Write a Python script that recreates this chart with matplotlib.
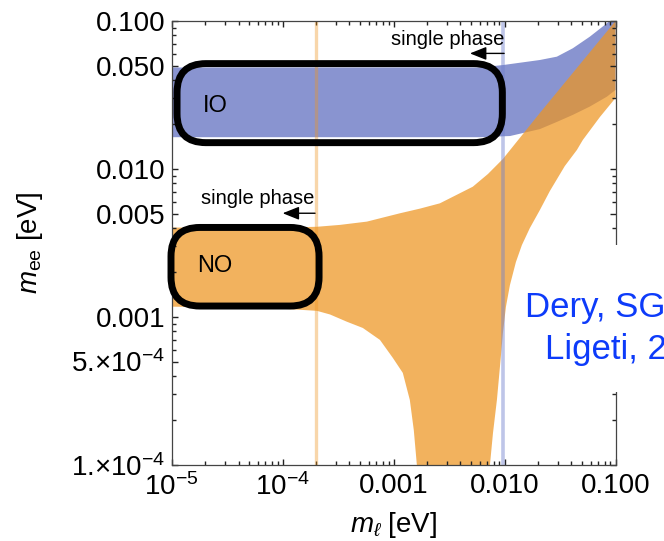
import numpy as np
import matplotlib.pyplot as plt
from matplotlib.patches import FancyBboxPatch, Rectangle
from matplotlib.ticker import FixedLocator, LogLocator, NullFormatter

plt.rcParams['font.family'] = ['Liberation Sans', 'DejaVu Sans']
plt.rcParams['mathtext.fontset'] = 'custom'
plt.rcParams['mathtext.rm'] = 'Liberation Sans'
plt.rcParams['mathtext.it'] = 'Liberation Sans:italic'
plt.rcParams['mathtext.bf'] = 'Liberation Sans:bold'

# inverted ordering band (m_lightest, m_ee in eV)
io_up_m = [1e-5, 6.0e-3, 9.7e-3, 0.0208, 0.0296, 0.0412, 0.0586, 0.0836, 0.1]
io_up = [0.0485, 0.0485, 0.0504, 0.0545, 0.0574, 0.0654, 0.0783, 0.0965, 0.112]
io_lo_m = [1e-5, 6.0e-3, 0.0112, 0.0208, 0.0296, 0.0412, 0.0586, 0.0836, 0.1]
io_lo = [0.0164, 0.0164, 0.0167, 0.0186, 0.0208, 0.0232, 0.0264, 0.0308, 0.0342]

# normal ordering band
no_up_m = [1e-5, 5e-5, 1.2e-4, 2.04e-4, 3.28e-4, 5.74e-4, 1.14e-3, 1.73e-3, 2.61e-3,
           5.17e-3, 7.08e-3, 9.66e-3, 0.0208, 0.1]
no_up = [0.00402, 0.00402, 0.00403, 0.00407, 0.00419, 0.00441, 0.00502, 0.0054,
         0.00586, 0.00759, 0.00925, 0.01169, 0.0239, 0.1]
no_lo_m = [1e-5, 5e-5, 1.16e-4, 2.04e-4, 2.67e-4, 3.79e-4, 5.28e-4, 7.53e-4, 9.86e-4,
           1.21e-3, 1.40e-3, 1.52e-3, 1.62e-3, 1.75e-3, 7.0e-3, 7.38e-3, 7.86e-3,
           8.53e-3, 9.08e-3, 9.66e-3, 0.01028, 0.01117, 0.01265, 0.01432, 0.0169,
           0.0208, 0.0256, 0.0349, 0.0448, 0.0507, 0.0723, 0.1]
no_lo = [0.001174, 0.00116, 0.00113, 0.00110, 0.00104, 9.29e-4, 8.43e-4, 7.00e-4,
         5.28e-4, 4.19e-4, 2.75e-4, 1.72e-4, 1.0e-4, 3e-5, 3e-5, 1.0e-4, 1.64e-4,
         2.75e-4, 4.59e-4, 7.80e-4, 1.17e-3, 1.64e-3, 2.35e-3, 3.06e-3, 3.99e-3,
         5.28e-3, 7.10e-3, 0.01047, 0.01343, 0.0157, 0.02245, 0.0302]

# single phase thresholds
no_line = 2.0e-4
io_line = 9.7e-3

x_major = [1e-5, 1e-4, 1e-3, 1e-2, 1e-1]
x_labels = [r'$10^{-5}$', r'$10^{-4}$', '0.001', '0.010', '0.100']
y_major = [1e-4, 5e-4, 1e-3, 5e-3, 1e-2, 5e-2, 1e-1]
y_labels = ['1.×10$^{-4}$', '5.×10$^{-4}$', '0.001', '0.005',
            '0.010', '0.050', '0.100']

blue = '#8994D0'
orange = '#EE9520'

fig = plt.figure(figsize=(6.64, 5.41), dpi=100)
ax = fig.add_axes([0.2586, 0.1405, 0.6684, 0.8207])
ax.set_xscale('log')
ax.set_yscale('log')
ax.set_xlim(1e-5, 0.1)
ax.set_ylim(1e-4, 0.1)

ax.fill(io_up_m + io_lo_m[::-1], io_up + io_lo[::-1], color=blue, lw=0, zorder=1)
ax.fill(no_up_m + no_lo_m[::-1], no_up + no_lo[::-1], color=orange, alpha=0.72,
        lw=0, zorder=1.5)

ax.axvline(no_line, color=orange, alpha=0.38, lw=2.4, zorder=2)
ax.axvline(io_line, color='#6F80CC', alpha=0.45, lw=2.6, zorder=2)

# ticks
ax.xaxis.set_major_locator(FixedLocator(x_major))
ax.set_xticklabels(x_labels)
ax.yaxis.set_major_locator(FixedLocator(y_major))
ax.set_yticklabels(y_labels)
ax.xaxis.set_minor_locator(LogLocator(base=10, subs=[2, 3, 4, 5, 6, 7, 8, 9]))
ax.yaxis.set_minor_locator(LogLocator(base=10, subs=[2, 3, 4, 6, 7, 8, 9]))
ax.xaxis.set_minor_formatter(NullFormatter())
ax.yaxis.set_minor_formatter(NullFormatter())
ax.tick_params(which='both', direction='in', top=True, right=True,
               color='#222222', width=1.0, labelsize=20)
ax.tick_params(which='major', length=4.5)
ax.tick_params(which='minor', length=2.6)
ax.tick_params(axis='x', pad=6)
ax.tick_params(axis='y', pad=4.5)
for sp in ax.spines.values():
    sp.set_color('#444444')
    sp.set_linewidth(0.9)

ax.set_xlabel(r'$m_{\ell}$ [eV]', fontsize=20)
ax.set_ylabel(r'$m_{\mathrm{ee}}$ [eV]', fontsize=20)
ax.xaxis.set_label_coords(0.5, -0.102)
ax.yaxis.set_label_coords(-0.285, 0.5)

# rounded boxes
for x0, y0, x1, y1 in [(0.012, 0.726, 0.745, 0.904), (-0.0016, 0.358, 0.332, 0.535)]:
    ax.add_patch(FancyBboxPatch((x0, y0), x1 - x0, y1 - y0,
                                boxstyle='round,pad=0,rounding_size=0.065',
                                transform=ax.transAxes, fill=False, lw=5,
                                ec='black', clip_on=False, zorder=5))
ax.text(0.0705, 0.796, 'IO', transform=ax.transAxes, fontsize=17,
        va='baseline', ha='left', zorder=6)
ax.text(0.057, 0.435, 'NO', transform=ax.transAxes, fontsize=17,
        va='baseline', ha='left', zorder=6)

# single phase arrows
arrow = dict(arrowstyle='-|>,head_length=0.5,head_width=0.2', color='black',
             lw=1.0, mutation_scale=20, shrinkA=0, shrinkB=0)
ax.text(0.749, 0.946, 'single phase', transform=ax.transAxes, fontsize=14.5,
        ha='right', va='baseline', zorder=6)
ax.annotate('', xy=(0.672, 0.927), xytext=(0.749, 0.927),
            xycoords='axes fraction', arrowprops=arrow, zorder=6)
ax.text(0.321, 0.588, 'single phase', transform=ax.transAxes, fontsize=14.5,
        ha='right', va='baseline', zorder=6)
ax.annotate('', xy=(0.250, 0.567), xytext=(0.323, 0.567),
            xycoords='axes fraction', arrowprops=arrow, zorder=6)

# citation on a white patch over the right frame
fig.add_artist(Rectangle((0.789, 0.2754), 0.25, 0.2717, transform=fig.transFigure,
                         facecolor='white', edgecolor='none', zorder=3))
fig.text(0.7907, 0.414, 'Dery, SG, Nir,', fontsize=25, color='#0D3BFA', zorder=4)
fig.text(0.8208, 0.3364, 'Ligeti, 2021', fontsize=25, color='#0D3BFA', zorder=4)

fig.savefig('out.png', dpi=100, facecolor='white')
